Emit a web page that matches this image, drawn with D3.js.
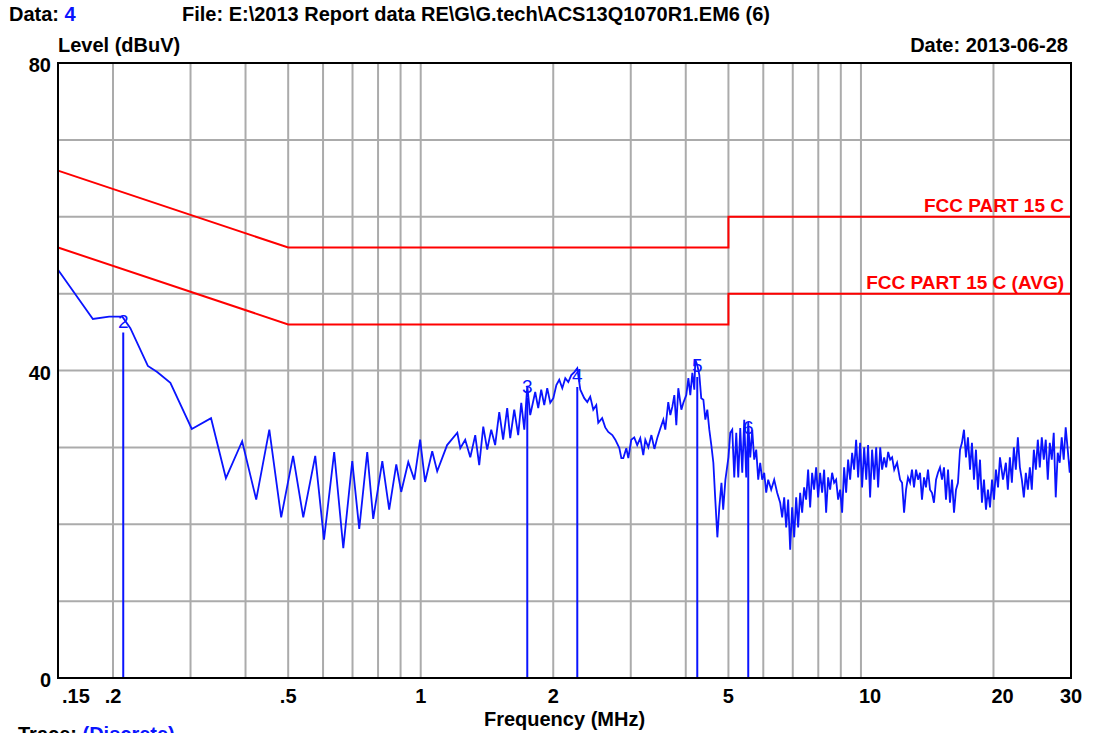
<!DOCTYPE html>
<html><head><meta charset="utf-8">
<script src="https://cdn.jsdelivr.net/npm/d3@7"></script>
<style>
html,body{margin:0;padding:0;background:#fff;}
text{font-family:"Liberation Sans",Arial,sans-serif;}
</style></head>
<body><svg id="c" width="1093" height="733"></svg>
<script>
// ---- data ----
const xTicks = [0.15, 0.2, 0.5, 1, 2, 5, 10, 20, 30];
const xTickLabels = [".15", ".2", ".5", "1", "2", "5", "10", "20", "30"];
const xGrid = [0.2,0.3,0.4,0.5,0.6,0.7,0.8,0.9,1,2,3,4,5,6,7,8,9,10,20];
const yTicks = [0, 40, 80];
const yGrid = [10,20,30,40,50,60,70];
const limitFreq = [0.15, 0.5, 5, 5, 30];
const qpLimit = [66, 56, 56, 60, 60];
const avgLimit = [56, 46, 46, 50, 50];
const limitNames = ["FCC PART 15 C", "FCC PART 15 C (AVG)"];
const markerLabel = ["2", "3", "4", "5", "6"];
const markerFreq = [0.211, 1.746, 2.268, 4.248, 5.546];
const markerLevel = [46.5, 38.0, 39.4, 40.7, 32.6];
// trace: [frequency MHz, level dBuV]
const trace = [
[0.150,53.1],[0.180,46.7],[0.196,47.0],[0.210,47.0],[0.219,45.5],[0.240,40.6],[0.252,39.8],[0.270,38.4],
[0.302,32.4],[0.334,33.8],[0.361,26.0],[0.393,30.8],[0.423,23.2],[0.453,32.3],[0.482,20.9],[0.513,28.9],
[0.541,20.9],[0.576,28.9],[0.603,18.0],[0.636,29.4],[0.667,16.9],[0.699,28.2],[0.725,19.4],[0.756,29.4],
[0.780,20.7],[0.818,28.2],[0.848,21.9],[0.880,27.8],[0.903,24.2],[0.937,28.1],[0.967,25.8],[0.997,31.0],
[1.023,25.5],[1.062,29.5],[1.090,26.9],[1.148,30.3],[1.211,31.9],[1.230,29.9],[1.262,31.0],[1.296,28.7],
[1.330,31.6],[1.358,27.7],[1.387,32.7],[1.416,29.7],[1.446,32.3],[1.476,30.3],[1.508,34.6],[1.539,31.0],
[1.572,35.1],[1.597,31.2],[1.631,34.9],[1.665,31.6],[1.692,35.8],[1.719,32.3],[1.746,38.0],[1.773,34.2],
[1.820,37.2],[1.849,35.1],[1.878,37.5],[1.908,35.5],[1.938,37.7],[1.969,35.8],[2.001,36.4],[2.033,38.1],
[2.064,38.8],[2.097,37.7],[2.130,39.0],[2.164,38.5],[2.198,39.4],[2.233,39.8],[2.268,40.3],[2.304,37.5],
[2.352,36.4],[2.390,35.9],[2.427,36.6],[2.466,34.9],[2.505,35.5],[2.531,33.2],[2.583,33.8],[2.625,32.6],
[2.667,32.0],[2.724,31.6],[2.767,31.0],[2.826,29.9],[2.856,28.6],[2.885,28.6],[2.931,29.9],[2.962,28.6],
[3.008,31.0],[3.055,31.3],[3.103,30.3],[3.153,31.2],[3.203,29.0],[3.237,31.0],[3.289,30.0],[3.342,31.6],
[3.395,29.8],[3.449,31.3],[3.503,32.5],[3.557,33.6],[3.594,32.3],[3.650,35.9],[3.690,34.2],[3.729,35.3],
[3.768,36.8],[3.807,32.9],[3.847,37.7],[3.909,34.9],[3.950,35.8],[4.011,36.8],[4.055,39.0],[4.096,36.8],
[4.140,39.7],[4.183,37.5],[4.205,41.4],[4.248,40.7],[4.295,39.4],[4.337,36.4],[4.386,36.2],[4.431,33.6],
[4.477,34.9],[4.524,32.3],[4.572,30.3],[4.621,28.0],[4.668,23.2],[4.719,18.3],[4.767,22.2],[4.821,25.4],
[4.865,21.9],[4.922,25.8],[5.000,28.7],[5.048,31.9],[5.101,32.3],[5.155,26.1],[5.209,31.9],[5.264,26.1],
[5.319,32.5],[5.375,26.7],[5.431,33.6],[5.488,26.1],[5.546,33.3],[5.604,28.7],[5.663,32.3],[5.722,28.4],
[5.782,29.7],[5.843,25.8],[5.904,28.0],[5.966,25.8],[6.029,26.7],[6.092,24.1],[6.156,25.8],[6.253,24.5],
[6.352,25.8],[6.452,24.1],[6.554,22.8],[6.623,20.9],[6.693,23.5],[6.763,19.6],[6.834,23.2],[6.906,16.7],
[6.978,22.2],[7.052,18.3],[7.126,23.5],[7.200,19.6],[7.276,24.1],[7.352,21.5],[7.429,24.8],[7.507,23.2],
[7.586,27.1],[7.666,22.2],[7.746,26.7],[7.828,24.5],[7.910,27.4],[7.993,23.5],[8.077,26.7],[8.162,24.1],
[8.248,27.1],[8.335,21.5],[8.422,26.1],[8.511,24.5],[8.600,26.7],[8.691,25.4],[8.782,25.8],[8.875,23.2],
[8.968,24.5],[9.062,21.5],[9.158,27.4],[9.254,24.1],[9.351,28.4],[9.450,25.8],[9.549,29.3],[9.650,27.1],
[9.751,31.0],[9.854,26.1],[9.957,30.6],[10.06,24.8],[10.17,30.0],[10.28,25.8],[10.38,30.3],[10.49,23.5],
[10.60,29.7],[10.72,25.8],[10.83,30.0],[10.94,24.8],[11.06,30.0],[11.17,27.1],[11.29,28.7],[11.41,27.4],
[11.53,29.4],[11.65,28.4],[11.77,28.7],[11.90,27.1],[12.08,28.0],[12.27,25.8],[12.40,25.4],[12.53,21.5],
[12.66,24.5],[12.79,26.1],[12.93,25.4],[13.06,27.1],[13.20,24.8],[13.34,27.1],[13.48,25.8],[13.62,26.7],
[13.76,23.2],[13.91,26.1],[14.05,24.8],[14.20,27.1],[14.35,24.5],[14.50,24.1],[14.65,22.8],[14.81,25.8],
[14.96,26.7],[15.12,27.4],[15.28,25.8],[15.44,27.4],[15.60,23.2],[15.77,27.1],[15.93,22.8],[16.10,25.8],
[16.27,21.5],[16.44,24.5],[16.61,25.4],[16.79,29.7],[16.96,30.6],[17.14,32.3],[17.32,28.7],[17.50,31.3],
[17.69,27.1],[17.87,30.6],[18.06,25.8],[18.25,29.7],[18.44,24.5],[18.64,28.4],[18.83,22.8],[19.03,25.8],
[19.23,21.9],[19.43,24.5],[19.64,22.2],[19.85,25.8],[20.05,23.2],[20.26,27.1],[20.48,24.8],[20.69,28.7],
[21.02,25.8],[21.34,28.0],[21.56,24.5],[21.79,28.7],[22.02,25.4],[22.25,30.0],[22.48,27.1],[22.72,31.3],
[22.96,27.4],[23.20,25.8],[23.44,23.5],[23.69,26.7],[23.94,24.5],[24.19,27.4],[24.44,24.5],[24.70,29.7],
[24.96,27.1],[25.22,31.0],[25.48,27.4],[25.75,31.3],[26.02,28.4],[26.29,31.0],[26.57,25.8],[26.85,30.6],
[27.13,28.4],[27.41,31.9],[27.70,23.5],[27.99,29.3],[28.28,28.0],[28.58,31.3],[28.88,28.4],[29.18,32.6],
[29.49,29.7],[29.80,26.7],[30.00,28.7]
];

// ---- drawing ----
const svg = d3.select("#c");
const L = 58, R = 1071, T = 63, B = 678;
const x = d3.scaleLog().domain([0.15, 30]).range([L, R]);
const y = d3.scaleLinear().domain([0, 80]).range([B, T]);
const BLUE = "#0a14ff", RED = "#ff0000", GRID = "#ababab";

svg.append("rect").attr("width",1093).attr("height",733).attr("fill","#fff");

// grid
svg.append("g").selectAll("line").data(xGrid).join("line")
  .attr("x1", d => x(d)).attr("x2", d => x(d)).attr("y1", T).attr("y2", B)
  .attr("stroke", GRID).attr("stroke-width", 2);
svg.append("g").selectAll("line").data(yGrid).join("line")
  .attr("x1", L).attr("x2", R).attr("y1", d => y(d)).attr("y2", d => y(d))
  .attr("stroke", GRID).attr("stroke-width", 2);

// limit lines
const limLine = d3.line().x(d => x(d[0])).y(d => y(d[1]));
[qpLimit, avgLimit].forEach((lim, i) => {
  svg.append("path").attr("d", limLine(limitFreq.map((f, k) => [f, lim[k]])))
    .attr("fill", "none").attr("stroke", RED).attr("stroke-width", 2);
  svg.append("text").attr("x", R - 7).attr("y", y(lim[lim.length - 1]) - 5)
    .attr("text-anchor", "end").attr("font-size", 19).attr("font-weight", "bold")
    .attr("fill", RED).text(limitNames[i]);
});

// trace
svg.append("path").attr("d", d3.line().x(d => x(d[0])).y(d => y(d[1]))(trace))
  .attr("fill", "none").attr("stroke", BLUE).attr("stroke-width", 1.8)
  .attr("stroke-linejoin", "miter");

// markers
markerLabel.forEach((m, i) => {
  const mx = x(markerFreq[i]), my = y(markerLevel[i]);
  svg.append("line").attr("x1", mx).attr("x2", mx).attr("y1", my + 12).attr("y2", B)
    .attr("stroke", BLUE).attr("stroke-width", 2);
  svg.append("text").attr("x", mx).attr("y", my + 7).attr("text-anchor", "middle")
    .attr("font-size", 19).attr("fill", BLUE).text(m);
});

// frame
svg.append("rect").attr("x", L).attr("y", T).attr("width", R - L).attr("height", B - T)
  .attr("fill", "none").attr("stroke", "#000").attr("stroke-width", 2);

// y tick labels
svg.append("g").selectAll("text").data(yTicks).join("text")
  .attr("x", L - 7).attr("y", d => y(d) + 9).attr("text-anchor", "end")
  .attr("font-size", 20).attr("font-weight", "bold").text(d => d);

// x tick labels
svg.append("g").selectAll("text").data(xTicks).join("text")
  .attr("x", (d, i) => i === 0 ? x(d) + 4 : (d >= 10 && d < 30 ? x(d) - 2 : x(d)))
  .attr("y", 703)
  .attr("text-anchor", (d, i) => (i === 0 || (d >= 10 && d < 30)) ? "start" : "middle")
  .attr("font-size", 20).attr("font-weight", "bold")
  .text((d, i) => xTickLabels[i]);

// titles
const bold = (sel) => sel.attr("font-size", 20).attr("font-weight", "bold");
bold(svg.append("text").attr("x", (L + R) / 2).attr("y", 726).attr("text-anchor", "middle")).text("Frequency (MHz)");
bold(svg.append("text").attr("x", L).attr("y", 52)).text("Level (dBuV)");
bold(svg.append("text").attr("x", R - 3).attr("y", 52).attr("text-anchor", "end")).text("Date: 2013-06-28");
const h1 = bold(svg.append("text").attr("x", 9).attr("y", 21));
h1.append("tspan").text("Data: ");
h1.append("tspan").attr("fill", BLUE).text("4");
bold(svg.append("text").attr("x", 182).attr("y", 21)).text("File: E:\\2013 Report data RE\\G\\G.tech\\ACS13Q1070R1.EM6 (6)");
const h2 = bold(svg.append("text").attr("x", 18).attr("y", 741));
h2.append("tspan").text("Trace:  ");
h2.append("tspan").attr("fill", BLUE).text("(Discrete)");
</script></body></html>
